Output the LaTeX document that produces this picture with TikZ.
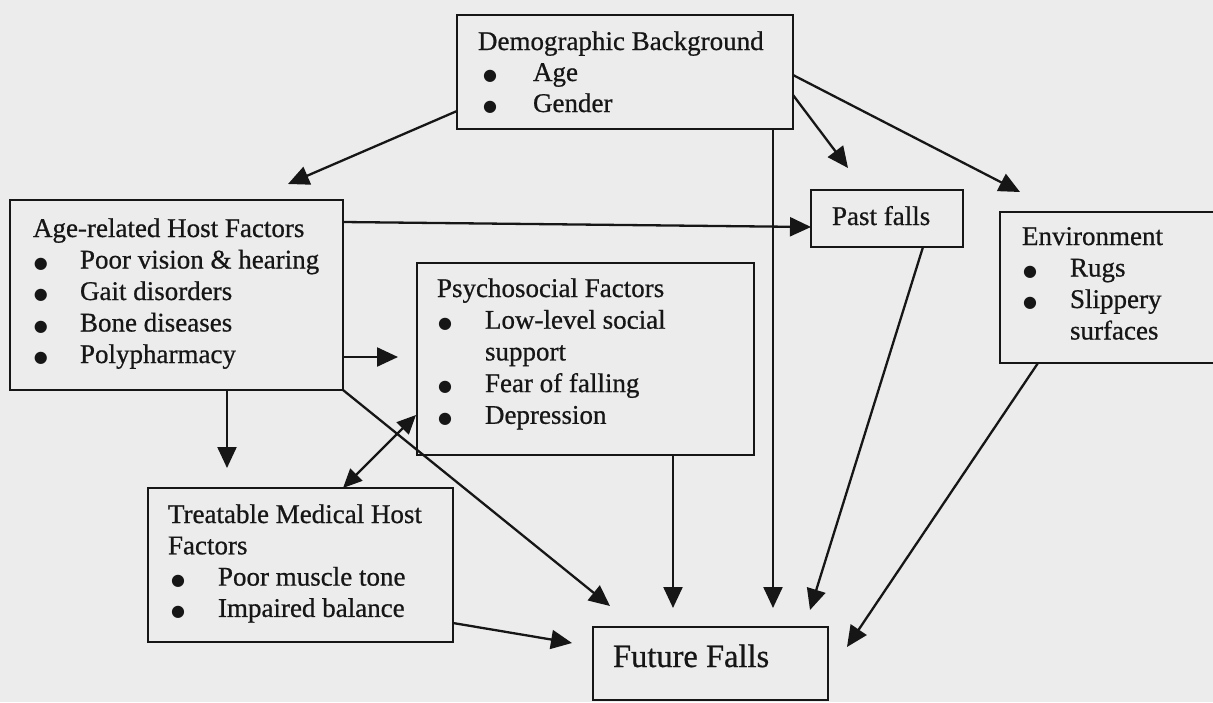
\documentclass[tikz,border=0pt]{standalone}
\usepackage{fontspec}
\setmainfont{Liberation Serif}[FakeBold=0.7]
\newfontfamily\symf{DejaVu Sans}
\usetikzlibrary{arrows.meta,calc}
\definecolor{bg}{RGB}{236,236,236}
\definecolor{ink}{RGB}{22,22,22}
\newcommand\blk[2]{\vtop{\baselineskip=#1\lineskiplimit=-100pt\relax #2}}
\newcommand\ttl[1]{\hbox{#1}}
\newcommand\dotb{{\symf\fontsize{16}{16}\selectfont\raisebox{0.5pt}{●}}}
\newcommand\bit[3]{\hbox{\hspace*{#1}\makebox[#2][l]{\dotb}#3}}
\begin{document}
\begin{tikzpicture}[x=1pt,y=-1pt,
  box/.style={draw=ink,line width=2.5pt,inner sep=0pt,outer sep=0pt},
  txt/.style={anchor=base west,inner sep=0pt,outer sep=0pt,text=ink,font=\fontsize{27}{31.5}\selectfont},
  arr/.style={draw=ink,line width=2.3pt,-{Triangle[length=21pt,width=19pt]}},
  darr/.style={draw=ink,line width=2.3pt,{Triangle[length=19pt,width=17pt]}-{Triangle[length=19pt,width=17pt]}}]
\fill[bg] (0,0) rectangle (1213,702);
\useasboundingbox (0,0) rectangle (1213,702);
\clip (0,0) rectangle (1213,702);

% boxes
\node[box,minimum width=336pt,minimum height=114pt] (demo) at (625,72) {};
\node[box,minimum width=333pt,minimum height=190pt] (age) at (176.5,295) {};
\node[box,minimum width=152pt,minimum height=57pt] (pf) at (887,218.5) {};
\node[box,minimum width=225pt,minimum height=151pt] (env) at (1112.5,287.5) {};
\node[box,minimum width=337pt,minimum height=192pt] (psych) at (585.5,359) {};
\node[box,minimum width=305pt,minimum height=154pt] (treat) at (300.5,565) {};
\node[box,minimum width=235pt,minimum height=73pt] (fut) at (710.5,663.5) {};

% texts
\node[txt] (demoT) at (478,50) {\blk{31pt}{\ttl{Demographic Background}\bit{5pt}{50pt}{Age}\bit{5pt}{50pt}{Gender}}};
\node[txt] (ageT) at (33,237) {\blk{31.5pt}{\ttl{Age-related Host Factors}\bit{1pt}{46pt}{Poor vision \& hearing}\bit{1pt}{46pt}{Gait disorders}\bit{1pt}{46pt}{Bone diseases}\bit{1pt}{46pt}{Polypharmacy}}};
\node[txt] (pfT) at (832,225) {Past falls};
\node[txt] (envT) at (1022,245) {\blk{31.5pt}{\ttl{Environment}\bit{1pt}{47pt}{Rugs}\bit{1pt}{47pt}{Slippery}\hbox{\hspace*{48pt}surfaces}}};
\node[txt] (psychT) at (437,297) {\blk{31.7pt}{\ttl{Psychosocial Factors}\bit{1pt}{47pt}{Low-level social}\hbox{\hspace*{48pt}support}\bit{1pt}{47pt}{Fear of falling}\bit{1pt}{47pt}{Depression}}};
\node[txt] (treatT) at (168,523) {\blk{31.3pt}{\ttl{Treatable Medical Host}\ttl{Factors}\bit{3pt}{47pt}{Poor muscle tone}\bit{3pt}{47pt}{Impaired balance}}};
\node[txt,font=\fontsize{32.5}{38}\selectfont] (futT) at (613,667) {Future Falls};

% connectors
\draw[arr] ($(demo.north west)+(0,96)$) -- ($(age.north west)+(278,-16)$);
\draw[arr] ($(demo.north east)+(0,80)$) -- ($(pf.north west)+(37,-22)$);
\draw[arr] ($(demo.north east)+(0,60)$) -- ($(env.north west)+(20,-20)$);
\draw[arr] ($(demo.south east)+(-20,0)$) -- ($(fut.north west)+(180,-19)$);
\draw[arr] ($(age.north east)+(0,22)$) -- ($(pf.north west)+(0,37)$);
\draw[arr] ($(age.north east)+(0,157)$) -- ($(psych.north west)+(-19,94)$);
\draw[arr] ($(age.south west)+(217,0)$) -- ($(treat.north west)+(79,-20)$);
\draw[arr] (age.south east) -- ($(fut.north west)+(17,-21)$);
\draw[darr] ($(treat.north west)+(195,0)$) -- ($(psych.north west)+(-1,152)$);
\draw[arr] ($(treat.north east)+(0,135)$) -- ($(fut.north west)+(-21,16)$);
\draw[arr] ($(psych.south west)+(256,0)$) -- ($(fut.north west)+(80,-19)$);
\draw[arr] ($(pf.south west)+(112,0)$) -- ($(fut.north east)+(-18,-17)$);
\draw[arr] ($(env.south west)+(38,0)$) -- ($(fut.north east)+(19,20)$);
\end{tikzpicture}
\end{document}
